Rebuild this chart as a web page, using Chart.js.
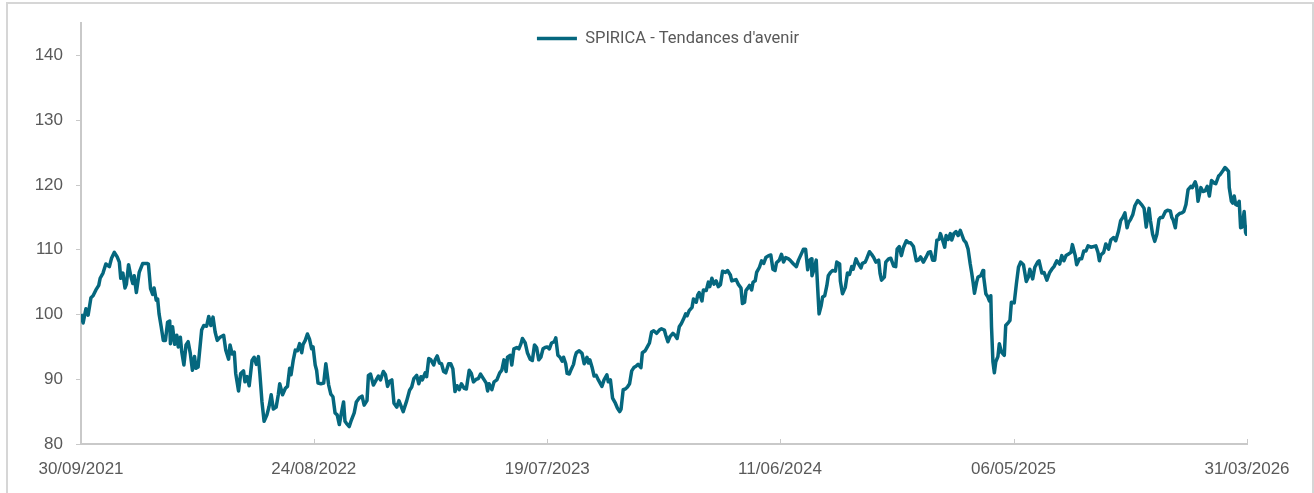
<!DOCTYPE html>
<html>
<head>
<meta charset="utf-8">
<script src="https://cdn.jsdelivr.net/npm/chart.js@4/dist/chart.umd.min.js"></script>
<style>
  html, body { margin: 0; padding: 0; background: #fff; overflow: hidden; }
  #frame { position: absolute; left: 6px; top: 2px; width: 1308px; height: 600px; border: 2px solid #d6d6d6; box-sizing: border-box; }
  #chart { position: absolute; left: 0; top: 0; }
</style>
</head>
<body>
<div id="frame"></div>
<canvas id="chart" width="1314" height="493"></canvas>
<script>
// series name
var seriesName = "SPIRICA - Tendances d'avenir";

// x axis labels (first one is day 0 of the series)
var tickLabels = ["30/09/2021", "24/08/2022", "19/07/2023", "11/06/2024", "06/05/2025", "31/03/2026"];
var yTicks = [80, 90, 100, 110, 120, 130, 140];

// days since 30/09/2021
var days = [
  0,3,7,10,14,17,21,25,27,31,35,40,43,47,51,54,56,59,62,64,67,70,73,75,78,82,87,93,95,98,101,103,106,108,110,113,116,119,122,125,126,129,132,135,137,140,142,145,148,151,154,157,160,162,165,
  170,173,177,180,183,186,189,192,196,201,204,208,210,213,216,218,222,225,229,231,234,237,241,244,247,250,252,255,258,262,265,268,271,275,278,280,284,288,291,294,296,299,302,305,308,311,313,316,319,322,325,327,330,332,334,338,342,345,349,352,355,358,361,364,367,370,372,374,378,381,385,388,392,396,399,403,405,408,412,416,419,422,426,429,432,435,438,441,445,448,
  454,459,463,466,469,473,476,479,481,485,487,490,493,497,499,502,505,508,511,514,518,521,524,527,530,533,536,540,543,547,550,553,557,560,563,567,571,573,575,579,582,586,590,593,596,599,601,605,607,610,614,617,620,622,626,629,633,636,639,642,645,648,651,654,657,660,663,667,669,672,675,678,680,683,685,688,691,694,696,698,702,706,709,713,715,717,720,723,726,729,
  734,737,741,743,746,749,753,756,759,761,764,767,770,773,776,779,782,785,789,791,795,798,801,804,807,811,815,818,822,824,827,830,834,837,840,843,846,849,852,854,857,861,863,867,869,871,875,877,881,884,886,889,892,895,898,901,904,908,911,915,917,920,923,926,930,932,935,937,939,942,945,947,950,952,956,959,962,965,969,972,975,978,980,984,987,990,993,997,1000,1004,1008,1011,
  1016,1018,1021,1024,1026,1029,1030,1033,1036,1038,1040,1043,1045,1048,1051,1053,1056,1059,1063,1065,1069,1070,1073,1077,1080,1083,1086,1088,1092,1095,1099,1101,1105,1107,1111,1114,1117,1120,1124,1126,1128,1132,1134,1138,1141,1145,1148,1150,1153,1156,1159,1163,1166,1169,1173,1177,1180,1183,1187,1191,1194,1197,1200,1203,1206,1209,1211,1214,1217,1219,1222,1225,1227,1230,1233,1236,1239,1241,1244,1247,1250,1253,1255,1257,1259,1262,1264,1268,1271,1272,1275,1278,1280,1282,1283,1285,1287,1289,1292,1294,
  1297,1301,1303,1307,1309,1311,1315,1318,1321,1324,1328,1332,1335,1337,1341,1344,1348,1350,1354,1357,1361,1365,1368,1371,1375,1379,1382,1385,1388,1391,1395,1397,1401,1403,1407,1410,1413,1416,1419,1423,1427,1430,1433,1435,1437,1441,1444,1448,1451,1455,1458,1462,1465,1468,1471,1474,1476,1479,1482,1485,1489,1491,1495,1498,1501,1503,1505,1507,1510,1513,1516,1519,1521,1524,1528,1531,1535,1537,1539,1542,1544,1548,1551,1554,1557,1560,1564,1566,1570,1572,1574,1578,1581,1584,1587,1590,1593,1597,1599,1603,1605,1609,1612,1614,1617,1618,1621,1623,1625,1627,1629,1632,1634,1636,1639,1641,1642,1643
];

// index value (base 100)
var values = [
  100.1,98.7,100.9,99.9,102.6,102.9,103.8,104.5,105.6,106.4,107.8,107.4,108.7,109.6,108.9,108.1,105.6,106.4,104.1,104.7,107.7,106.0,104.8,106.0,103.4,106.5,107.9,107.9,107.8,104.0,103.1,104.1,102.2,102.4,100.1,98.1,96.0,96.0,98.8,99.0,95.5,98.1,95.4,96.8,95.0,96.5,94.2,92.2,95.3,95.8,94.0,91.4,93.5,91.7,91.9,
  97.6,98.3,98.2,99.7,98.3,99.6,97.3,96.0,96.5,96.8,94.5,93.1,95.3,93.9,94.2,90.9,88.2,90.9,91.3,89.6,90.4,89.0,92.9,93.4,92.3,93.5,90.9,86.5,83.5,84.5,85.8,87.6,85.4,85.7,87.6,89.3,87.6,88.6,88.9,91.7,90.7,92.9,94.5,94.4,95.5,94.1,95.4,96.0,97.0,96.2,94.7,95.0,92.2,91.4,89.4,89.3,89.4,92.4,89.1,87.7,87.3,84.8,84.5,83.0,84.8,86.5,83.5,83.2,82.7,83.7,84.8,86.5,87.1,87.4,86.0,86.7,90.6,90.8,89.1,89.9,90.5,89.9,91.2,90.7,88.9,89.7,89.9,86.3,85.7,86.7,
  85.0,86.7,88.3,88.8,90.1,90.6,89.3,90.4,89.9,91.0,90.4,93.2,93.0,92.2,93.0,93.6,92.5,92.4,91.2,91.0,92.4,92.4,91.6,88.1,89.0,88.4,89.3,88.6,88.5,91.4,90.9,89.6,90.0,90.1,90.8,90.1,89.4,88.2,89.3,88.4,89.6,89.9,91.0,91.4,93.0,91.2,93.4,93.7,92.2,94.7,94.9,94.7,95.5,96.3,95.6,94.1,93.1,92.9,95.3,94.9,93.0,93.4,94.7,94.9,95.0,94.7,95.6,95.8,96.4,93.7,93.4,92.8,93.4,92.4,90.9,90.8,91.6,92.3,93.4,94.1,94.4,94.0,92.4,93.4,92.5,93.0,91.9,90.5,90.6,89.9,
  88.9,89.9,90.7,89.6,89.9,87.1,86.3,85.5,85.0,85.4,88.4,88.5,88.8,89.3,91.3,91.8,92.0,92.3,91.8,94.1,94.4,95.0,95.6,97.3,97.5,97.1,97.6,97.8,97.6,96.8,95.8,96.6,97.1,96.8,96.3,98.1,98.6,99.3,100.1,99.8,100.6,101.1,102.4,101.9,103.0,103.4,102.1,103.8,103.7,105.0,104.3,105.6,104.7,105.2,104.3,104.6,106.7,106.5,106.8,106.1,105.2,105.3,105.4,104.7,104.1,101.7,101.9,103.7,104.0,104.5,103.8,105.0,105.2,106.5,107.3,108.3,107.9,108.8,109.1,109.2,107.0,106.8,108.0,108.4,109.3,108.1,108.8,108.6,108.3,107.8,107.4,108.4,
  109.6,110.1,110.1,106.9,108.3,108.6,106.0,107.0,108.4,104.2,100.1,101.4,102.7,102.9,104.5,106.0,106.5,106.8,106.7,108.1,107.8,105.2,103.2,104.2,106.4,106.2,107.4,107.0,108.6,107.9,107.2,107.9,108.1,108.6,109.7,109.3,108.8,108.1,108.4,106.3,105.3,105.8,108.1,108.6,108.7,107.5,107.4,110.1,110.5,109.1,110.4,111.4,111.1,111.1,110.5,108.3,108.4,108.9,108.1,108.9,109.6,109.7,108.4,108.4,111.5,111.6,112.5,111.5,110.4,112.2,111.6,112.5,111.5,112.5,112.8,112.2,113.0,112.4,111.5,111.1,110.1,107.8,106.5,105.0,103.3,105.0,105.8,106.0,106.8,105.8,103.2,102.7,102.1,102.9,98.1,92.7,91.0,92.7,93.5,95.5,
  94.2,93.7,98.3,98.8,99.1,101.9,101.8,104.7,107.3,108.1,107.7,105.1,105.8,107.0,105.5,107.3,108.1,108.3,106.4,106.5,105.3,106.5,107.0,107.4,108.3,107.8,109.1,108.3,109.1,109.3,109.6,110.8,109.1,107.7,108.6,108.6,109.8,109.8,110.6,110.4,110.5,110.6,109.6,108.3,109.2,109.6,110.9,110.1,111.5,111.9,111.4,112.9,114.5,115.0,115.7,113.4,114.2,114.7,115.4,116.8,117.6,117.4,116.9,116.4,113.5,115.1,116.4,114.5,112.4,111.3,112.4,114.7,115.0,115.0,115.9,116.1,116.0,115.0,114.6,113.4,115.2,115.6,115.7,115.9,117.0,119.3,119.8,119.6,120.5,119.8,117.5,119.6,119.0,119.1,119.8,118.3,120.7,120.3,120.2,121.4,121.6,122.2,122.7,122.5,122.1,119.6,117.5,117.2,118.3,117.0,116.9,117.5,113.4,113.5,115.9,112.7,112.4,113.8
];

var startDate = new Date(2021, 8, 30);
function dayOffset(label) {
  var p = label.split("/").map(Number);
  return Math.round((new Date(p[2], p[1] - 1, p[0]) - startDate) / 86400000);
}
var tickDays = tickLabels.map(dayOffset);

var points = days.map(function (d, i) { return { x: d, y: values[i] }; });

var axisColor = "#c9c9c9";
var textColor = "#595959";
var plotTop = 20;

// small tick marks pointing up into the plot on the x axis
var innerTicks = {
  id: "innerTicks",
  afterDraw: function (chart) {
    var xs = chart.scales.x;
    var ctx = chart.ctx;
    ctx.save();
    ctx.strokeStyle = axisColor;
    ctx.lineWidth = 1;
    xs.ticks.forEach(function (t) {
      var px = Math.round(xs.getPixelForValue(t.value)) + 0.5;
      ctx.beginPath();
      ctx.moveTo(px, xs.top);
      ctx.lineTo(px, xs.top - 5);
      ctx.stroke();
    });
    ctx.restore();
  }
};

// legend sits over the top of the plot, like in Excel
var legendOverPlot = {
  id: "legendOverPlot",
  afterLayout: function (chart) {
    var lg = chart.legend;
    var ca = chart.chartArea;
    var h = lg.height;
    lg.top = ca.top - 3;
    lg.bottom = lg.top + h;
    lg.left = ca.left + 4;
    lg.right = ca.right + 4;
    lg.width = ca.right - ca.left;
  }
};

new Chart(document.getElementById("chart"), {
  type: "line",
  data: {
    datasets: [
      {
        label: seriesName,
        data: points,
        borderColor: "#05677e",
        backgroundColor: "#05677e",
        borderWidth: 3.5,
        borderJoinStyle: "round",
        pointRadius: 0,
        tension: 0,
      },
    ],
  },
  options: {
    responsive: false,
    animation: false,
    // legend height (~37px) is eaten by the negative top padding
    layout: { padding: { top: plotTop - 37, right: 67, left: 0, bottom: 0 } },
    plugins: {
      legend: {
        position: "top",
        align: "center",
        labels: {
          usePointStyle: true,
          pointStyle: "line",
          pointStyleWidth: 40,
          color: textColor,
          font: { family: "Roboto", size: 16.5 },
          padding: 10,
        },
      },
      tooltip: { enabled: false },
    },
    scales: {
      x: {
        type: "linear",
        min: tickDays[0],
        max: tickDays[tickDays.length - 1],
        afterBuildTicks: function (s) {
          s.ticks = tickDays.map(function (v) { return { value: v }; });
        },
        afterFit: function (s) { s.height = 49; },
        grid: { display: false },
        border: { color: axisColor, width: 2 },
        ticks: {
          callback: function (v, i) { return tickLabels[i]; },
          color: textColor,
          font: { family: "Liberation Sans", size: 17 },
          padding: 7,
          maxRotation: 0,
          autoSkip: false,
        },
      },
      y: {
        min: 80,
        max: 145,
        afterBuildTicks: function (s) {
          s.ticks = yTicks.map(function (v) { return { value: v }; });
        },
        afterFit: function (s) { s.width = 81; },
        grid: { drawOnChartArea: false, tickLength: 5, color: axisColor },
        border: { color: axisColor, width: 2 },
        ticks: {
          color: textColor,
          font: { family: "Liberation Sans", size: 17 },
          padding: 13,
        },
      },
    },
  },
  plugins: [innerTicks, legendOverPlot],
});
</script>
</body>
</html>
